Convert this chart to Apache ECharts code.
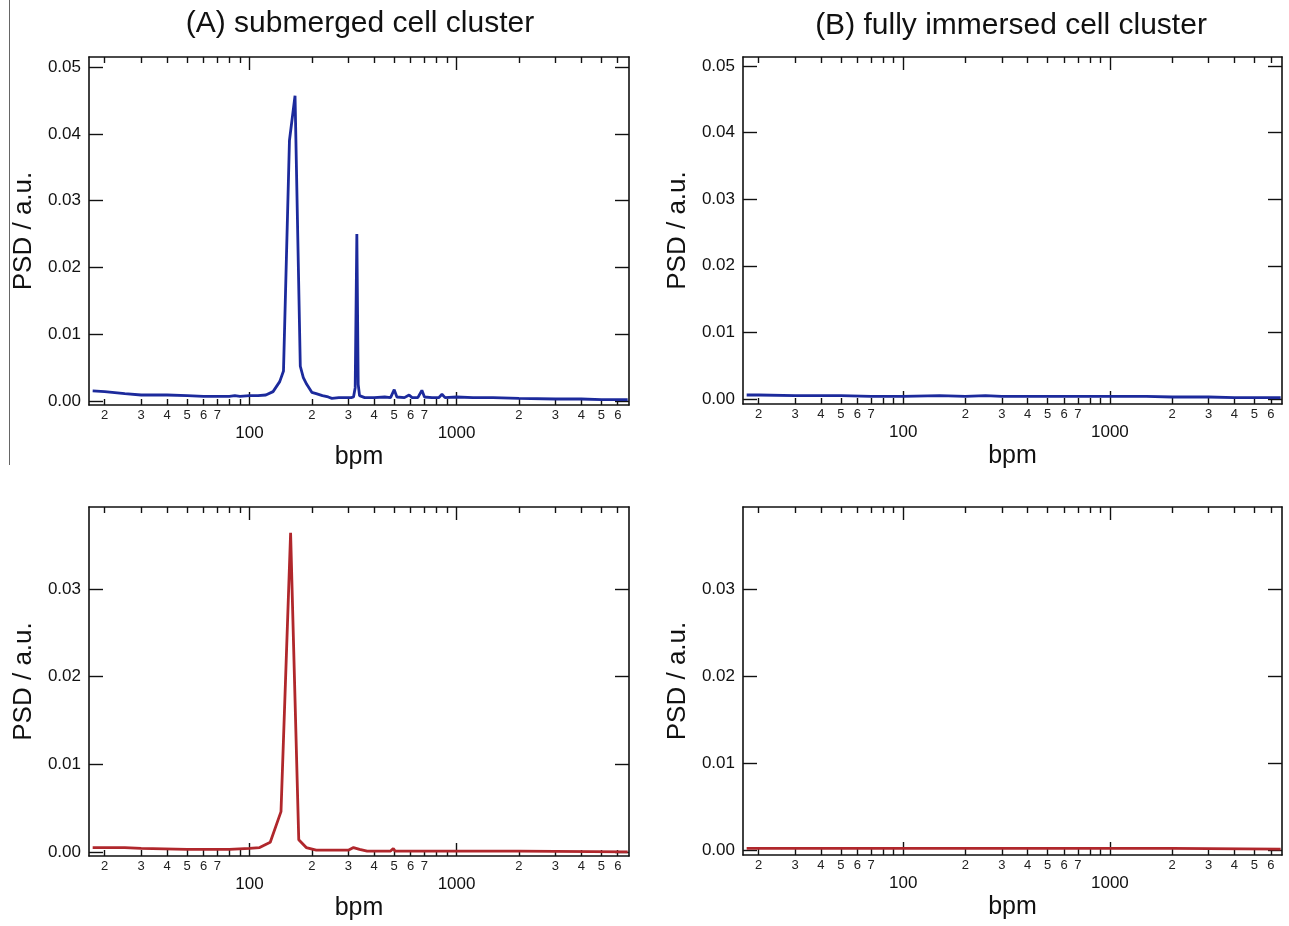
<!DOCTYPE html>
<html>
<head>
<meta charset="utf-8">
<script src="https://cdn.jsdelivr.net/npm/echarts@6/dist/echarts.min.js"></script>
<style>
  html, body { margin: 0; padding: 0; background: #fff; }
  #chart { width: 1289px; height: 926px; }
</style>
</head>
<body>
<div id="chart"></div>
<script>
// x axis ticks (bpm, log scale)
const majorTicks = [100, 1000]
const minorTicks = [20, 30, 40, 50, 60, 70, 80, 90, 200, 300, 400, 500, 600, 700, 800, 900, 2000, 3000, 4000, 5000, 6000]
const minorLabels = [20, 30, 40, 50, 60, 70, 200, 300, 400, 500, 600, 700, 2000, 3000, 4000, 5000, 6000]
// y axis ticks
const yTicksTop = [0, 0.01, 0.02, 0.03, 0.04, 0.05]
const yTicksBottom = [0, 0.01, 0.02, 0.03]

// (A) submerged, blue
const bpmA1 = [17.5, 20, 25, 30, 40, 50, 60, 70, 80, 85, 90, 100, 110, 120, 130, 140, 146, 156, 166, 176, 182, 189, 200, 210, 225, 240, 250, 270, 290, 310, 318, 324, 330, 335, 340, 360, 400, 450, 480, 500, 515, 560, 590, 610, 650, 680, 700, 760, 820, 850, 880, 1000, 1200, 1500, 2000, 3000, 4000, 5000, 6700]
const psdA1 = [0.0015, 0.0014, 0.0011, 0.0009, 0.0009, 0.0008, 0.0007, 0.0007, 0.0007, 0.0008, 0.0007, 0.0008, 0.0008, 0.0009, 0.0014, 0.0029, 0.0045, 0.0390, 0.0457, 0.0052, 0.0035, 0.0025, 0.0013, 0.0011, 0.0008, 0.0006, 0.0004, 0.0005, 0.0005, 0.0005, 0.0006, 0.0020, 0.0250, 0.0025, 0.0008, 0.0005, 0.0005, 0.0006, 0.0005, 0.0017, 0.0006, 0.0005, 0.0009, 0.0005, 0.0005, 0.0016, 0.0006, 0.0005, 0.0005, 0.0010, 0.0005, 0.0006, 0.0005, 0.0005, 0.0004, 0.0003, 0.0003, 0.0002, 0.0002]
// (A) submerged, red
const bpmA2 = [17.5, 25, 30, 50, 80, 100, 112, 126, 142, 158, 173, 188, 210, 250, 300, 318, 340, 370, 480, 495, 505, 700, 1000, 2000, 6700]
const psdA2 = [0.0005, 0.0005, 0.0004, 0.0003, 0.0003, 0.0004, 0.0005, 0.0011, 0.0046, 0.0364, 0.0014, 0.0005, 0.0002, 0.0002, 0.0002, 0.0005, 0.0003, 0.0001, 0.0001, 0.0004, 0.0001, 0.0001, 0.0001, 0.0001, 0.0000]
// (B) fully immersed, blue
const bpmB1 = [17.5, 20, 30, 50, 70, 100, 150, 200, 250, 300, 400, 500, 700, 1000, 1500, 2000, 3000, 4000, 6700]
const psdB1 = [0.0006, 0.0006, 0.0005, 0.0005, 0.0004, 0.0004, 0.0005, 0.0004, 0.0005, 0.0004, 0.0004, 0.0004, 0.0004, 0.0004, 0.0004, 0.0003, 0.0003, 0.0002, 0.0002]
// (B) fully immersed, red
const bpmB2 = [17.5, 100, 1000, 2000, 6700]
const psdB2 = [0.0002, 0.0002, 0.0002, 0.0002, 0.0001]

const FONT = 'Liberation Sans, Arial, sans-serif'
const INK = '#111'
const BLUE = '#1c2a9c'
const RED = '#b0272c'

const panels = [
  { bpm: bpmA1, psd: psdA1, color: BLUE, ticks: yTicksTop, grid: { left: 89, top: 57, width: 540, height: 348 }, yMin: -0.0006, yMax: 0.0515 },
  { bpm: bpmB1, psd: psdB1, color: BLUE, ticks: yTicksTop, grid: { left: 743, top: 57, width: 539, height: 347 }, yMin: -0.00075, yMax: 0.05135 },
  { bpm: bpmA2, psd: psdA2, color: RED, ticks: yTicksBottom, grid: { left: 89, top: 507, width: 540, height: 349 }, yMin: -0.00046, yMax: 0.03935 },
  { bpm: bpmB2, psd: psdB2, color: RED, ticks: yTicksBottom, grid: { left: 743, top: 507, width: 539, height: 348 }, yMin: -0.00057, yMax: 0.03943 }
]

const xMin = 16.8
const xMax = 6800

const axisLine = { show: true, onZero: false, lineStyle: { color: INK, width: 1.6 } }
const tickLine = { color: INK, width: 1.4 }

function leadDigit(v) {
  const p = Math.pow(10, Math.floor(Math.log10(v) + 1e-9))
  return String(Math.round(v / p))
}

function makeXAxes(gi) {
  const base = {
    type: 'log', logBase: 10, gridIndex: gi, min: xMin, max: xMax,
    splitLine: { show: false }, minorTick: { show: false }
  }
  return [
    {
      ...base, position: 'bottom', axisLine: axisLine,
      axisTick: { show: true, inside: true, length: 6, customValues: minorTicks, lineStyle: tickLine },
      axisLabel: { show: true, customValues: minorLabels, formatter: leadDigit, fontSize: 13, margin: 4, color: '#222', fontFamily: FONT }
    },
    {
      ...base, position: 'bottom', axisLine: { show: false, onZero: false },
      axisTick: { show: true, inside: true, length: 13, customValues: majorTicks, lineStyle: tickLine },
      axisLabel: { show: true, customValues: majorTicks, formatter: v => String(Math.round(v)), fontSize: 17, margin: 20, color: INK, fontFamily: FONT },
      name: 'bpm', nameLocation: 'middle', nameGap: 40,
      nameTextStyle: { fontSize: 25, color: INK, fontFamily: FONT }
    },
    {
      ...base, position: 'top', axisLine: axisLine,
      axisTick: { show: true, inside: true, length: 6, customValues: minorTicks, lineStyle: tickLine },
      axisLabel: { show: false }
    },
    {
      ...base, position: 'top', axisLine: { show: false, onZero: false },
      axisTick: { show: true, inside: true, length: 13, customValues: majorTicks, lineStyle: tickLine },
      axisLabel: { show: false }
    }
  ]
}

function makeYAxes(gi, p) {
  const base = {
    type: 'value', gridIndex: gi, min: p.yMin, max: p.yMax,
    splitLine: { show: false }, axisLine: axisLine,
    axisTick: { show: true, inside: true, length: 14, customValues: p.ticks, lineStyle: tickLine }
  }
  return [
    {
      ...base, position: 'left',
      axisLabel: { show: true, customValues: p.ticks, formatter: v => v.toFixed(2), fontSize: 17, margin: 8, color: INK, fontFamily: FONT },
      name: 'PSD / a.u.', nameLocation: 'middle', nameGap: 52, nameRotate: 90,
      nameTextStyle: { fontSize: 26, color: INK, fontFamily: FONT }
    },
    { ...base, position: 'right', axisLabel: { show: false } }
  ]
}

const grids = []
const xAxes = []
const yAxes = []
const series = []
panels.forEach((p, gi) => {
  grids.push({ ...p.grid, containLabel: false })
  xAxes.push(...makeXAxes(gi))
  yAxes.push(...makeYAxes(gi, p))
  series.push({
    type: 'line',
    xAxisIndex: gi * 4,
    yAxisIndex: gi * 2,
    data: p.bpm.map((b, i) => [b, p.psd[i]]),
    symbol: 'none',
    smooth: false,
    lineStyle: { color: p.color, width: 2.8 },
    animation: false
  })
})

const chart = echarts.init(document.getElementById('chart'), null, { renderer: 'canvas' })
chart.setOption({
  backgroundColor: '#fff',
  animation: false,
  grid: grids,
  xAxis: xAxes,
  yAxis: yAxes,
  series: series,
  graphic: [
    { type: 'line', shape: { x1: 9.5, y1: 0, x2: 9.5, y2: 465 }, style: { stroke: '#666', lineWidth: 1 } },
    { type: 'text', x: 360, y: 9, style: { text: '(A) submerged cell cluster', font: '30px ' + FONT, fill: INK, textAlign: 'center' } },
    { type: 'text', x: 1011, y: 11, style: { text: '(B) fully immersed cell cluster', font: '30px ' + FONT, fill: INK, textAlign: 'center' } }
  ]
})
</script>
</body>
</html>
